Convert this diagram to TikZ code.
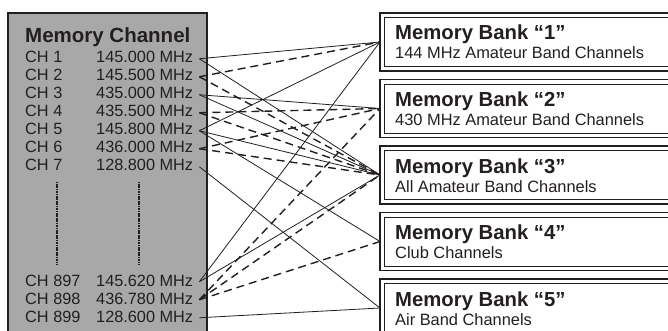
\documentclass[tikz,border=0pt]{standalone}
\usepackage{fontspec}
\setmainfont{Liberation Sans}
\usetikzlibrary{positioning}
\definecolor{inkdark}{RGB}{35,31,32}
\definecolor{chgray}{RGB}{168,168,168}

\begin{document}
\begin{tikzpicture}[x=1pt, y=-1pt,
    every node/.style={text=inkdark, inner sep=0pt},
    chtitle/.style={font=\fontsize{20.5}{24}\selectfont\bfseries, anchor=base west},
    chlabel/.style={font=\fontsize{16.3}{18}\selectfont, anchor=base west},
    freq/.style={font=\fontsize{16.3}{18}\selectfont, anchor=base west, inner xsep=6pt, text height=11.5pt, text depth=3pt},
    bankbox/.style={draw=inkdark, line width=1.6pt, minimum width=330pt, minimum height=58pt, anchor=north west, outer sep=0pt},
    bankinner/.style={draw=inkdark, line width=0.9pt},
    banktitle/.style={font=\fontsize{20.3}{24}\selectfont\bfseries, anchor=base west},
    banksub/.style={font=\fontsize{16.4}{18}\selectfont, anchor=base west},
    solidlink/.style={draw=inkdark, line width=0.8pt},
    dashlink/.style={draw=inkdark, line width=1.4pt, dash pattern=on 8pt off 5pt},
    gapline/.style={draw=inkdark, line width=2pt, dash pattern=on 1.2pt off 0.5pt}
  ]
    \useasboundingbox (0,0) rectangle (668,331);
    \clip (0,0) rectangle (668,331);
    \fill[white] (0,0) rectangle (668,331);

    % memory channel list
    \draw[draw=inkdark, fill=chgray, line width=1.5pt] (8,13) rectangle (207,345);
    \node[chtitle] (chhead) at (25,43) {Memory Channel};
    \foreach \n/\c/\f/\y in {1/CH 1/145.000 MHz/63, 2/CH 2/145.500 MHz/81,
        3/CH 3/435.000 MHz/99, 4/CH 4/435.500 MHz/117, 5/CH 5/145.800 MHz/135,
        6/CH 6/436.000 MHz/153, 7/CH 7/128.800 MHz/171,
        897/CH 897/145.620 MHz/286, 898/CH 898/436.780 MHz/304, 899/CH 899/128.600 MHz/322} {
      \node[chlabel] (c\n) at (25,\y) {\c};
      \node[freq] (f\n) at (90,\y) {\f};
    }
    \draw[gapline] (57,182) -- (57,265);
    \draw[gapline] (139,182) -- (139,265);

    % memory banks
    \foreach \b/\yt/\ti/\sub in {1/13/Memory Bank “1”/144 MHz Amateur Band Channels,
        2/79.5/Memory Bank “2”/430 MHz Amateur Band Channels,
        3/146/Memory Bank “3”/All Amateur Band Channels,
        4/212.5/Memory Bank “4”/Club Channels,
        5/279/Memory Bank “5”/Air Band Channels} {
      \node[bankbox] (bank\b) at (380,\yt) {};
      \draw[bankinner] ([shift={(4.5pt,-4.5pt)}]bank\b.north west) rectangle ([shift={(-4.5pt,4.5pt)}]bank\b.south east);
      \node[banktitle] (bt\b) at (395,\yt+27) {\ti};
      \node[banksub] (bs\b) at (395,\yt+46) {\sub};
    }

    % links
    \foreach \c/\b in {1/1, 1/3, 3/2, 3/3, 5/1, 5/3, 5/4, 7/5, 897/1, 897/3, 899/5}
      \draw[solidlink] (f\c.east) -- (bank\b.west);
    \foreach \c/\b in {2/1, 2/3, 4/2, 4/3, 6/2, 6/3, 898/2, 898/3, 898/4}
      \draw[dashlink] (f\c.east) -- (bank\b.west);
\end{tikzpicture}
\end{document}
